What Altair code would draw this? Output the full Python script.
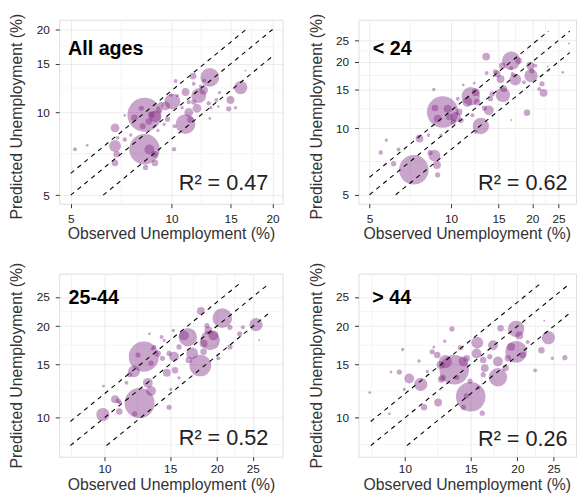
import altair as alt
import pandas as pd

FONT = "Liberation Sans"
FILL = "#7A1E7E"

# ---------------- data (observed %, predicted %, population weight) ----------------
all_obs = [8.3, 8.3, 13.0, 11.0, 10.05, 12.05, 16.07, 6.78, 14.98, 14.8, 6.78, 8.92, 9.6, 11.25,
           12.46, 11.0, 11.59, 6.86, 6.78, 8.92, 8.36, 8.58, 7.25, 10.17, 5.15, 5.6, 10.28, 10.4,
           10.2, 7.55, 7.75, 8.12, 8.2, 9.2, 9.72, 11.9, 11.38, 13.6, 13.9, 12.2, 11.64, 12.5,
           16.6, 15.5, 13.1, 10.75, 8.7, 8.55, 9.29, 7.25, 9.95, 13.78, 13.0, 11.64, 9.5, 9.1,
           8.9, 6.9, 12.9, 11.25]
all_pred = [9.8, 7.35, 13.4, 9.07, 10.95, 11.5, 12.31, 7.55, 11.1, 10.3, 8.78, 9.67, 10.55, 10.0,
            12.05, 11.86, 13.55, 7.05, 6.55, 6.55, 6.31, 7.33, 7.97, 7.35, 7.35, 7.58, 13.0, 11.5,
            8.9, 8.27, 9.55, 10.35, 8.9, 10.25, 9.45, 10.35, 9.4, 11.1, 11.8, 12.45, 10.9, 13.07,
            14.2, 10.4, 10.4, 10.4, 9.8, 9.27, 10.7, 9.75, 11.55, 10.5, 9.5, 12.7, 9.05, 8.6,
            7.05, 8.08, 10.8, 10.9]
all_pop = [300, 240, 90, 100, 64, 56, 45, 36, 16, 7, 20, 36, 20, 20,
           20, 16, 12, 11, 11, 11, 7, 25, 5, 5, 4, 2, 4, 3,
           4, 3, 11, 7, 9, 11, 7, 20, 11, 4, 3, 3, 7, 4,
           1, 3, 3, 3, 11, 11, 7, 2, 3, 2, 2, 4, 3, 3,
           11, 4, 5, 5]

u24_obs = [9.32, 7.29, 16.7, 12.9, 11.84, 15.56, 19.77, 13.8, 17.3, 8.69, 22.0, 19.1, 7.65, 10.43,
           11.5, 15.47, 19.65, 15.7, 9.72, 8.93, 10.73, 12.35, 12.5, 14.2, 14.83, 17.8, 20.5, 19.9,
           21.7, 6.14, 5.5, 5.77, 6.4, 8.88, 8.93, 8.37, 13.3, 8.64, 11.1, 12.2, 13.55, 14.6,
           15.25, 16.7, 16.9, 18.6, 22.8, 25.9, 27.3, 16.7, 21.2, 9.19, 8.26, 10.6, 10.9, 10.2,
           14.0, 12.0, 12.35, 23.0, 8.73, 9.86, 13.5]
u24_pred = [11.84, 6.48, 20.2, 10.24, 13.97, 14.17, 17.3, 12.05, 16.6, 7.51, 14.46, 11.76, 8.99, 11.24,
            13.13, 19.2, 19.2, 15.07, 12.26, 11.05, 11.84, 14.56, 13.13, 14.3, 17.6, 20.2, 19.2, 18.2,
            15.9, 6.91, 7.77, 8.83, 8.02, 6.82, 6.15, 7.75, 12.34, 14.97, 15.7, 16.0, 17.8, 18.0,
            16.7, 18.7, 17.6, 16.15, 19.05, 17.9, 24.2, 10.9, 15.07, 9.3, 9.3, 13.6, 10.86, 10.68,
            13.6, 11.44, 9.63, 18.2, 12.34, 11.24, 21.1]
u24_pop = [256, 225, 87, 69, 87, 54, 45, 25, 36, 36, 16, 11, 16, 25,
           25, 11, 16, 11, 16, 16, 11, 16, 11, 7, 11, 11, 4, 7,
           7, 7, 5, 3, 4, 16, 7, 7, 7, 3, 2, 2, 4, 7,
           16, 4, 4, 4, 1, 2, 1, 1, 4, 3, 3, 4, 7, 7,
           7, 4, 4, 1, 11, 11, 16]

mid_obs = [12.75, 12.42, 20.7, 18.07, 19.2, 16.73, 25.5, 9.9, 15.37, 13.07, 13.33, 10.96, 10.67, 12.0,
           14.7, 15.46, 18.14, 21.7, 21.7, 23.05, 23.5, 14.9, 15.06, 11.69, 11.45, 16.33, 17.18, 19.0,
           19.6, 18.44, 20.2, 18.82, 26.0, 13.2, 9.94, 13.89, 14.31, 14.9, 15.84, 13.61, 14.46, 15.84,
           16.83, 18.44, 13.47, 11.0, 14.23, 15.3, 12.05, 10.89, 12.3, 13.33]
mid_pred = [15.89, 11.18, 21.28, 14.86, 17.98, 18.43, 20.25, 10.25, 15.89, 13.03, 12.25, 10.48, 11.5, 14.21,
            14.07, 14.32, 22.46, 19.85, 17.11, 18.89, 19.85, 10.82, 12.4, 13.86, 13.03, 18.66, 16.28, 19.37,
            18.66, 17.54, 15.69, 20.1, 17.98, 18.89, 12.71, 16.28, 15.69, 16.28, 17.11, 17.11, 17.98, 13.53,
            15.5, 16.49, 16.9, 11.23, 18.43, 19.37, 10.3, 11.37, 16.08, 15.12]
mid_pop = [234, 234, 100, 121, 100, 87, 45, 45, 25, 25, 25, 11, 16, 36,
           16, 11, 16, 7, 7, 7, 4, 7, 3, 7, 4, 25, 36, 16,
           25, 16, 4, 7, 1, 2, 2, 11, 7, 7, 7, 4, 3, 3,
           11, 11, 4, 4, 4, 3, 7, 7, 7, 7]

old_obs = [13.55, 15.0, 19.84, 19.84, 17.74, 24.2, 11.02, 10.27, 15.62, 17.21, 17.74, 12.27, 11.25, 12.52,
           12.83, 14.34, 15.55, 16.36, 16.2, 18.03, 20.24, 23.19, 26.8, 22.3, 16.1, 14.34, 13.36, 12.78,
           9.86, 9.66, 9.18, 8.05, 10.91, 11.95, 12.2, 11.48, 9.96, 14.06, 14.64, 16.2, 16.87, 18.59,
           21.3, 23.6, 24.8, 18.86, 19.24, 20.66, 14.94, 15.71, 11.83, 13.77, 9.09, 12.45, 12.6, 14.6]
old_pred = [14.39, 11.72, 19.61, 16.49, 13.59, 18.34, 12.87, 13.46, 17.67, 17.32, 15.31, 11.23, 10.82, 13.36,
            15.31, 15.31, 16.28, 14.57, 13.86, 19.7, 18.66, 16.69, 15.77, 14.32, 10.35, 10.82, 19.61, 17.85,
            16.78, 14.14, 14.14, 12.1, 15.38, 17.07, 16.08, 14.21, 12.4, 17.0, 15.69, 15.5, 15.89, 14.57,
            17.76, 20.86, 15.69, 15.69, 17.11, 16.08, 13.2, 12.56, 16.49, 13.59, 10.3, 14.93, 13.53, 11.8]
old_pop = [225, 225, 69, 121, 87, 45, 45, 25, 36, 25, 25, 16, 11, 11,
           45, 25, 25, 16, 7, 11, 16, 11, 7, 4, 7, 7, 7, 3,
           3, 7, 2, 2, 3, 2, 11, 3, 3, 7, 11, 11, 7, 11,
           4, 1, 3, 11, 16, 11, 7, 4, 7, 7, 2, 16, 11, 7]

panel_labels = ["All ages", "< 24", "25-44", "> 44"]
r2_labels = ["R\u00b2 = 0.47", "R\u00b2 = 0.62", "R\u00b2 = 0.52", "R\u00b2 = 0.26"]

x_domains = [[4.62, 21.44], [4.55, 29.0], [7.56, 30.05], [7.51, 28.7]]
y_domains = [[4.654, 21.72], [4.55, 31.0], [7.44, 29.8], [7.44, 29.8]]
x_ticks = [[5, 10, 15, 20], [5, 10, 15, 20, 25], [10, 15, 20, 25], [10, 15, 20, 25]]
y_ticks = [[5, 10, 15, 20], [5, 10, 15, 20, 25], [10, 15, 20, 25], [10, 15, 20, 25]]
x_minor = [[7.07, 12.25, 17.32], [7.07, 12.25, 17.32, 22.36], [8.16, 12.25, 17.32, 22.36], [8.16, 12.25, 17.32, 22.36]]
y_minor = [[7.07, 12.25, 17.32], [7.07, 12.25, 17.32, 22.36], [8.16, 12.25, 17.32, 22.36], [8.16, 12.25, 17.32, 22.36]]

line_factors = [0.8, 1.0, 1.2]
line_lo = [5.0, 5.0, 8.1, 8.1]
line_hi = [20.0, 27.5, 27.6, 27.5]

series = [(all_obs, all_pred, all_pop), (u24_obs, u24_pred, u24_pop),
          (mid_obs, mid_pred, mid_pop), (old_obs, old_pred, old_pop)]

# ---------------- layout ----------------
widths = [227, 221, 227, 221]
heights = [187, 187, 186, 186]
label_pos = [(9, 36), (14.5, 35.5), (9.5, 30.5), (14, 30.5)]
r2_pos = [(212.5, 173.5), (212.5, 173.5), (212.5, 174.5), (212.5, 175)]
xtitle_y = [35.5, 35.5, 33.5, 33.5]
xtitle_x = [113.5, 110, 113.5, 110]
xlabel_pad = [6, 6, 3, 3]
ytitle_y = [98, 98, 93, 93]


def make_panel(i):
    obs, pred, pop = series[i]
    pts = pd.DataFrame({"x": obs, "y": pred, "s": pop})
    xs = alt.Scale(type="log", domain=x_domains[i], nice=False, zero=False)
    ys = alt.Scale(type="log", domain=y_domains[i], nice=False, zero=False)

    xaxis = alt.Axis(title="Observed Unemployment (%)", values=x_ticks[i], format="d",
                     grid=True, gridColor="#EBEBEB", gridWidth=1, domain=False,
                     tickSize=4, tickColor="#333333", labelFontSize=12, labelColor="#222222",
                     labelPadding=xlabel_pad[i], labelFont=FONT, labelFlush=False, labelOverlap=False,
                     titleFont=FONT, titleFontSize=16, titleFontWeight="normal",
                     titleColor="#333333", titleBaseline="alphabetic",
                     titleY=xtitle_y[i], titleX=xtitle_x[i])
    yaxis = alt.Axis(title="Predicted Unemployment (%)", values=y_ticks[i], format="d",
                     grid=True, gridColor="#EBEBEB", gridWidth=1, domain=False,
                     tickSize=4, tickColor="#333333", labelFontSize=12, labelColor="#222222",
                     labelPadding=6, labelFont=FONT, labelFlush=False, labelOverlap=False,
                     titleFont=FONT, titleFontSize=16, titleFontWeight="normal",
                     titleColor="#333333", titleBaseline="alphabetic", titleAngle=270,
                     titleX=-38, titleY=ytitle_y[i], titleAlign="center")

    vminor = alt.Chart(pd.DataFrame({"x": x_minor[i]})).mark_rule(
        color="#F4F4F4", strokeWidth=1).encode(x=alt.X("x:Q", scale=xs))
    hminor = alt.Chart(pd.DataFrame({"y": y_minor[i]})).mark_rule(
        color="#F4F4F4", strokeWidth=1).encode(y=alt.Y("y:Q", scale=ys))

    bubbles = alt.Chart(pts).mark_circle(color=FILL, opacity=0.4, clip=True).encode(
        x=alt.X("x:Q", scale=xs, axis=xaxis),
        y=alt.Y("y:Q", scale=ys, axis=yaxis),
        size=alt.Size("s:Q", scale=alt.Scale(domain=[0, 300], range=[0, 1200]), legend=None),
    )

    lo, hi = line_lo[i], line_hi[i]
    rows = []
    for k in line_factors:
        x0 = max(lo, lo / k)
        x1 = min(hi, hi / k)
        rows.append({"x": x0, "y": k * x0, "k": str(k)})
        rows.append({"x": x1, "y": k * x1, "k": str(k)})
    lines = alt.Chart(pd.DataFrame(rows)).mark_line(
        color="black", strokeWidth=1.1, strokeDash=[4.5, 4.5]).encode(
        x=alt.X("x:Q", scale=xs),
        y=alt.Y("y:Q", scale=ys),
        detail="k:N",
    )

    lab = alt.Chart(pd.DataFrame({"t": [panel_labels[i]]})).mark_text(
        align="left", baseline="alphabetic", font=FONT, fontSize=20, fontWeight="bold",
        color="black").encode(
        x=alt.value(label_pos[i][0]), y=alt.value(label_pos[i][1]), text="t:N")

    r2 = alt.Chart(pd.DataFrame({"t": [r2_labels[i]]})).mark_text(
        align="right", baseline="alphabetic", font=FONT, fontSize=22, fontWeight="normal",
        color="#222222").encode(
        x=alt.value(r2_pos[i][0]), y=alt.value(r2_pos[i][1]), text="t:N")

    return alt.layer(vminor, hminor, bubbles, lines, lab, r2).properties(
        width=widths[i], height=heights[i])


chart = alt.concat(
    *[make_panel(i) for i in range(4)],
    columns=2,
    spacing={"row": 71, "column": 77},
    bounds="flush",
).properties(
    padding={"left": 0, "top": 1, "right": 0, "bottom": 0},
    background="white",
).configure_view(
    stroke="#7F7F7F", strokeWidth=1
).configure(font=FONT)

chart.save("out.html", embed_options={"renderer": "svg", "actions": False})
